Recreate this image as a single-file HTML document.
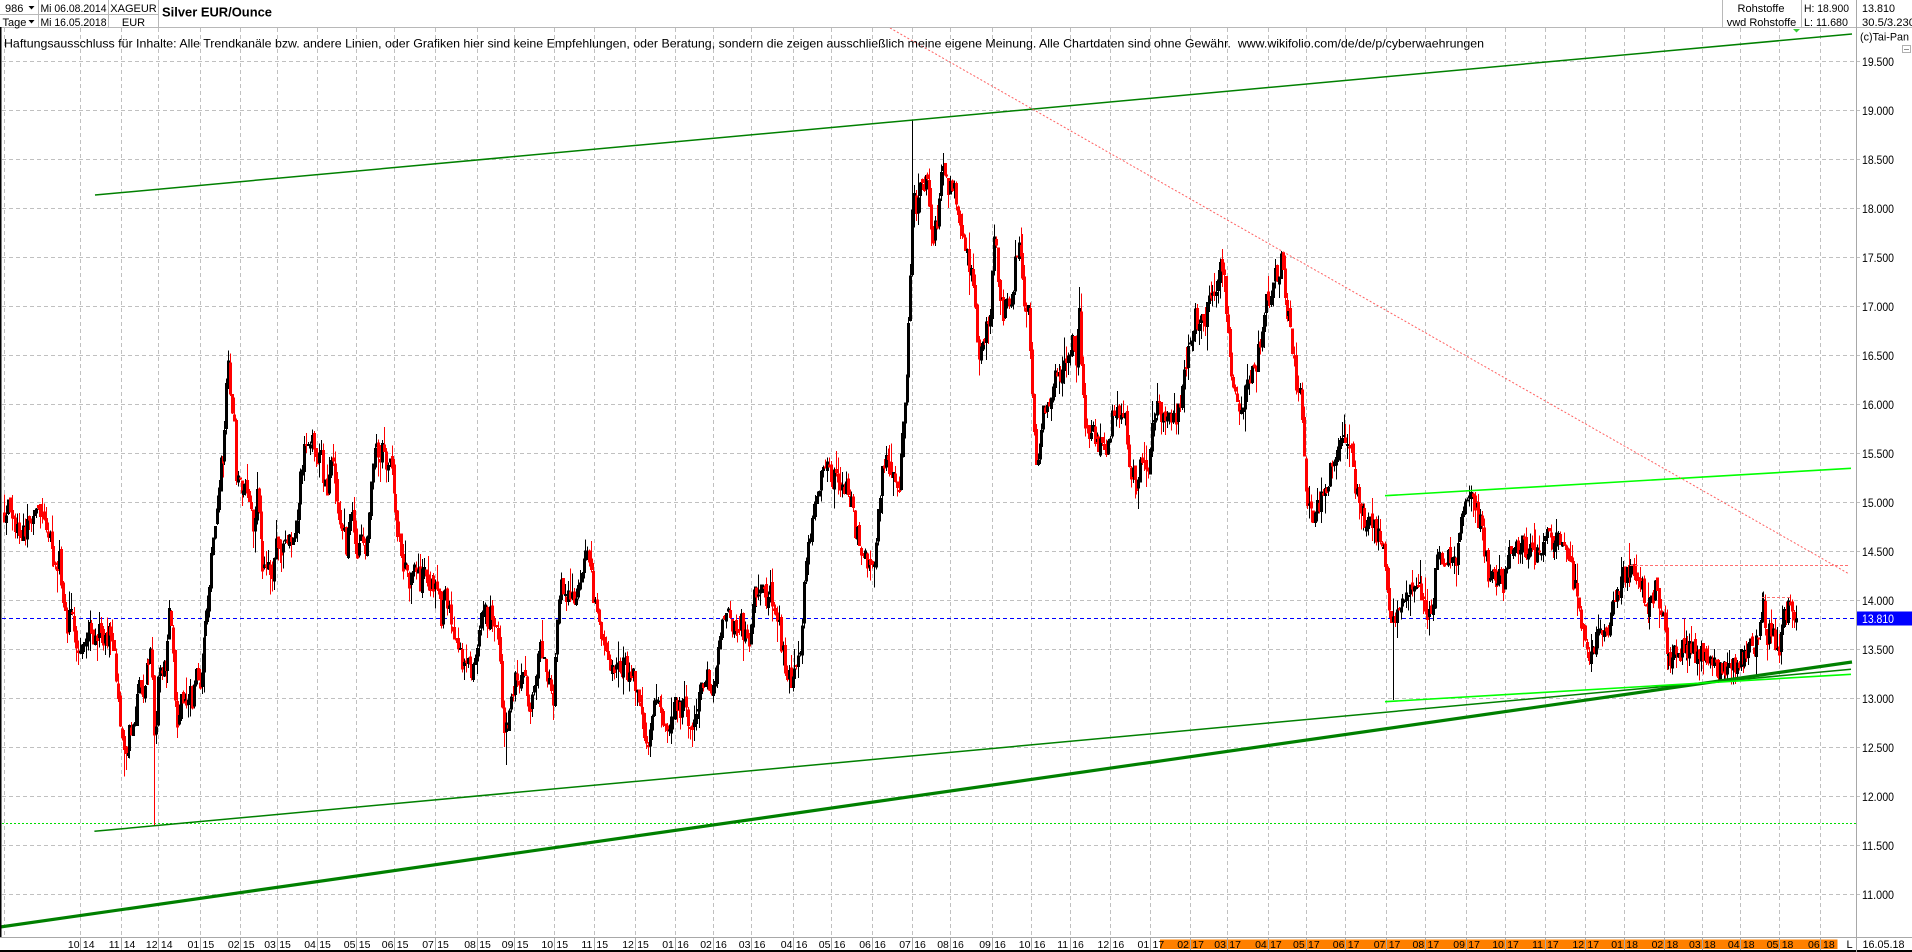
<!DOCTYPE html>
<html><head><meta charset="utf-8">
<style>
html,body{margin:0;padding:0;background:#fff;width:1912px;height:952px;overflow:hidden}
svg{display:block;font-family:"Liberation Sans",Arial,sans-serif}
</style></head>
<body>
<svg id="chart" width="1912" height="952" viewBox="0 0 1912 952" xmlns="http://www.w3.org/2000/svg">
<rect x="0" y="0" width="1912" height="952" fill="#fff"/>
<path fill="none" stroke="#c0c0c0" stroke-width="1" stroke-dasharray="4,3" shape-rendering="crispEdges" d="M2 61.5H1860M2 110.5H1860M2 159.5H1860M2 208.5H1860M2 257.5H1860M2 306.5H1860M2 355.5H1860M2 404.5H1860M2 453.5H1860M2 502.5H1860M2 551.5H1860M2 600.5H1860M2 649.5H1860M2 698.5H1860M2 747.5H1860M2 796.5H1860M2 845.5H1860M2 894.5H1860"/>
<path fill="none" stroke="#c0c0c0" stroke-width="1" stroke-dasharray="4,3" shape-rendering="crispEdges" d="M4.5 28V937M80.5 28V937M121.5 28V937M158.5 28V937M200.5 28V937M240.5 28V937M277.5 28V937M317.5 28V937M356.5 28V937M394.5 28V937M435.5 28V937M477.5 28V937M514.5 28V937M554.5 28V937M594.5 28V937M635.5 28V937M675.5 28V937M713.5 28V937M751.5 28V937M793.5 28V937M831.5 28V937M872.5 28V937M912.5 28V937M950.5 28V937M992.5 28V937M1031.5 28V937M1070.5 28V937M1110.5 28V937M1150.5 28V937M1190.5 28V937M1227.5 28V937M1268.5 28V937M1306.5 28V937M1345.5 28V937M1386.5 28V937M1425.5 28V937M1466.5 28V937M1505.5 28V937M1545.5 28V937M1585.5 28V937M1624.5 28V937M1664.5 28V937M1702.5 28V937M1740.5 28V937M1779.5 28V937M1820.5 28V937"/>

<path d="M2 823.5H1856" stroke="#00dd00" stroke-width="1" stroke-dasharray="2,2" fill="none" shape-rendering="crispEdges"/>
<path d="M2 618.5H1856" stroke="#0000ff" stroke-width="1" stroke-dasharray="4,3" fill="none" shape-rendering="crispEdges"/>

<g id="candles" fill="none" stroke-width="1" shape-rendering="crispEdges"></g>

<path d="M95 195L1852 34" stroke="#008000" stroke-width="1.5" fill="none"/>
<path d="M94.4 831.3L1851 669.3" stroke="#008000" stroke-width="1.5" fill="none"/>
<path d="M0 927L1852 662" stroke="#008000" stroke-width="3.2" fill="none"/>
<path d="M1385 495.7L1851 468.3" stroke="#00ff00" stroke-width="1.6" fill="none"/>
<path d="M1385 701.7L1851 674.3" stroke="#00ff00" stroke-width="1.6" fill="none"/>
<path d="M890 28L1848 573.3" stroke="#ff6060" stroke-width="1" stroke-dasharray="2,2" fill="none"/>
<path d="M1630 565.5H1850" stroke="#ff7070" stroke-width="1" stroke-dasharray="3,2" fill="none"/>
<path d="M1762 597.5H1790" stroke="#ff7070" stroke-width="1" stroke-dasharray="3,2" fill="none"/>

<rect x="0" y="0" width="1912" height="27" fill="#fff"/>
<g stroke="#b8b8b8" stroke-width="1" fill="none" shape-rendering="crispEdges">
<path d="M0 27.5H1912M0 14.5H158.5M38.5 0V27M108.5 0V27M158.5 0V27M1722.5 0V27M1801.5 0V27"/>
</g>
<path d="M0.5 27V937" stroke="#000" stroke-width="1.5" shape-rendering="crispEdges"/>
<path d="M1856.5 0V952" stroke="#a8a8a8" stroke-width="1" shape-rendering="crispEdges"/>

<g font-size="11" fill="#000">
<text x="5" y="12">986</text>
<text x="2.5" y="26">Tage</text>
<text x="40.5" y="12" textLength="66" lengthAdjust="spacingAndGlyphs">Mi 06.08.2014</text>
<text x="40.5" y="26" textLength="66" lengthAdjust="spacingAndGlyphs">Mi 16.05.2018</text>
<text x="133.5" y="12" text-anchor="middle">XAGEUR</text>
<text x="133.5" y="26" text-anchor="middle">EUR</text>
<text x="1761" y="12" text-anchor="middle">Rohstoffe</text>
<text x="1761.5" y="26" text-anchor="middle">vwd Rohstoffe</text>
<text x="1804" y="12" textLength="45" lengthAdjust="spacingAndGlyphs">H: 18.900</text>
<text x="1804" y="26" textLength="44" lengthAdjust="spacingAndGlyphs">L: 11.680</text>
<text x="1862" y="12" textLength="33" lengthAdjust="spacingAndGlyphs">13.810</text>
<text x="1862" y="26" textLength="53" lengthAdjust="spacingAndGlyphs">30.5/3.230</text>
<text x="1860" y="40.5" textLength="49" lengthAdjust="spacingAndGlyphs">(c)Tai-Pan</text>
</g>
<polygon points="28.5,6 34.5,6 31.5,9.5" fill="#000"/>
<polygon points="28.5,20 34.5,20 31.5,23.5" fill="#000"/>
<text x="162" y="16.7" font-size="13" font-weight="bold" textLength="110" lengthAdjust="spacingAndGlyphs">Silver EUR/Ounce</text>
<polygon points="1793,29 1800,29 1796.5,32.5" fill="#33cc33"/>
<rect x="1902.5" y="45.5" width="8" height="7" fill="#fff" stroke="#b0b0b0" stroke-width="1"/>
<path d="M1904 49.5H1909" stroke="#909090" stroke-width="1"/>

<text x="4" y="47.5" font-size="12" fill="#000" textLength="1480" lengthAdjust="spacingAndGlyphs">Haftungsausschluss für Inhalte: Alle Trendkanäle bzw. andere Linien, oder Grafiken hier sind keine Empfehlungen, oder Beratung, sondern die zeigen ausschließlich meine eigene Meinung. Alle Chartdaten sind ohne Gewähr.&#160; www.wikifolio.com/de/de/p/cyberwaehrungen</text>

<g font-size="12" fill="#000">
<text x="1862" y="66" textLength="32" lengthAdjust="spacingAndGlyphs">19.500</text>
<text x="1862" y="115" textLength="32" lengthAdjust="spacingAndGlyphs">19.000</text>
<text x="1862" y="164" textLength="32" lengthAdjust="spacingAndGlyphs">18.500</text>
<text x="1862" y="213" textLength="32" lengthAdjust="spacingAndGlyphs">18.000</text>
<text x="1862" y="262" textLength="32" lengthAdjust="spacingAndGlyphs">17.500</text>
<text x="1862" y="311" textLength="32" lengthAdjust="spacingAndGlyphs">17.000</text>
<text x="1862" y="360" textLength="32" lengthAdjust="spacingAndGlyphs">16.500</text>
<text x="1862" y="409" textLength="32" lengthAdjust="spacingAndGlyphs">16.000</text>
<text x="1862" y="458" textLength="32" lengthAdjust="spacingAndGlyphs">15.500</text>
<text x="1862" y="507" textLength="32" lengthAdjust="spacingAndGlyphs">15.000</text>
<text x="1862" y="556" textLength="32" lengthAdjust="spacingAndGlyphs">14.500</text>
<text x="1862" y="605" textLength="32" lengthAdjust="spacingAndGlyphs">14.000</text>
<text x="1862" y="654" textLength="32" lengthAdjust="spacingAndGlyphs">13.500</text>
<text x="1862" y="703" textLength="32" lengthAdjust="spacingAndGlyphs">13.000</text>
<text x="1862" y="752" textLength="32" lengthAdjust="spacingAndGlyphs">12.500</text>
<text x="1862" y="801" textLength="32" lengthAdjust="spacingAndGlyphs">12.000</text>
<text x="1862" y="850" textLength="32" lengthAdjust="spacingAndGlyphs">11.500</text>
<text x="1862" y="899" textLength="32" lengthAdjust="spacingAndGlyphs">11.000</text>
</g>
<rect x="1857" y="611.5" width="55" height="14" fill="#0000ff"/>
<text x="1862" y="623" font-size="12" fill="#ffffff" textLength="32" lengthAdjust="spacingAndGlyphs">13.810</text>

<rect x="0" y="938" width="1912" height="14" fill="#fff"/>
<path d="M0 937.5H1912" stroke="#a8a8a8" stroke-width="1" shape-rendering="crispEdges"/>
<rect x="1160" y="939.5" width="677.5" height="9.5" fill="#ff8000"/>
<path d="M0 951H1912" stroke="#000" stroke-width="2" shape-rendering="crispEdges"/>
<path d="M1856.5 937V952" stroke="#a8a8a8" stroke-width="1" shape-rendering="crispEdges"/>
<path fill="none" stroke="#a8a8a8" stroke-width="1" shape-rendering="crispEdges" d="M80.5 938V950M121.5 938V950M158.5 938V950M200.5 938V950M240.5 938V950M277.5 938V950M317.5 938V950M356.5 938V950M394.5 938V950M435.5 938V950M477.5 938V950M514.5 938V950M554.5 938V950M594.5 938V950M635.5 938V950M675.5 938V950M713.5 938V950M751.5 938V950M793.5 938V950M831.5 938V950M872.5 938V950M912.5 938V950M950.5 938V950M992.5 938V950M1031.5 938V950M1070.5 938V950M1110.5 938V950M1150.5 938V950M1190.5 938V950M1227.5 938V950M1268.5 938V950M1306.5 938V950M1345.5 938V950M1386.5 938V950M1425.5 938V950M1466.5 938V950M1505.5 938V950M1545.5 938V950M1585.5 938V950M1624.5 938V950M1664.5 938V950M1702.5 938V950M1740.5 938V950M1779.5 938V950M1820.5 938V950"/>
<g font-size="10.5" fill="#000">
<text y="948"><tspan x="67.9">10</tspan><tspan x="82.9">14</tspan></text>
<text y="948"><tspan x="108.7">11</tspan><tspan x="123.7">14</tspan></text>
<text y="948"><tspan x="145.9">12</tspan><tspan x="160.9">14</tspan></text>
<text y="948"><tspan x="187.5">01</tspan><tspan x="202.5">15</tspan></text>
<text y="948"><tspan x="227.9">02</tspan><tspan x="242.9">15</tspan></text>
<text y="948"><tspan x="264.2">03</tspan><tspan x="279.2">15</tspan></text>
<text y="948"><tspan x="304.2">04</tspan><tspan x="319.2">15</tspan></text>
<text y="948"><tspan x="343.8">05</tspan><tspan x="358.8">15</tspan></text>
<text y="948"><tspan x="381.8">06</tspan><tspan x="396.8">15</tspan></text>
<text y="948"><tspan x="422.2">07</tspan><tspan x="437.2">15</tspan></text>
<text y="948"><tspan x="464.2">08</tspan><tspan x="479.2">15</tspan></text>
<text y="948"><tspan x="501.8">09</tspan><tspan x="516.8">15</tspan></text>
<text y="948"><tspan x="541.4">10</tspan><tspan x="556.4">15</tspan></text>
<text y="948"><tspan x="581.4">11</tspan><tspan x="596.4">15</tspan></text>
<text y="948"><tspan x="622.2">12</tspan><tspan x="637.2">15</tspan></text>
<text y="948"><tspan x="662.2">01</tspan><tspan x="677.2">16</tspan></text>
<text y="948"><tspan x="700.2">02</tspan><tspan x="715.2">16</tspan></text>
<text y="948"><tspan x="738.8">03</tspan><tspan x="753.8">16</tspan></text>
<text y="948"><tspan x="780.8">04</tspan><tspan x="795.8">16</tspan></text>
<text y="948"><tspan x="818.8">05</tspan><tspan x="833.8">16</tspan></text>
<text y="948"><tspan x="859.2">06</tspan><tspan x="874.2">16</tspan></text>
<text y="948"><tspan x="899.2">07</tspan><tspan x="914.2">16</tspan></text>
<text y="948"><tspan x="937.2">08</tspan><tspan x="952.2">16</tspan></text>
<text y="948"><tspan x="979.2">09</tspan><tspan x="994.2">16</tspan></text>
<text y="948"><tspan x="1018.8">10</tspan><tspan x="1033.8">16</tspan></text>
<text y="948"><tspan x="1057.2">11</tspan><tspan x="1072.2">16</tspan></text>
<text y="948"><tspan x="1097.5">12</tspan><tspan x="1112.5">16</tspan></text>
<text y="948"><tspan x="1137.5">01</tspan><tspan x="1152.5">17</tspan></text>
<text y="948"><tspan x="1177.3">02</tspan><tspan x="1192.3">17</tspan></text>
<text y="948"><tspan x="1214.3">03</tspan><tspan x="1229.3">17</tspan></text>
<text y="948"><tspan x="1255.1">04</tspan><tspan x="1270.1">17</tspan></text>
<text y="948"><tspan x="1293">05</tspan><tspan x="1308">17</tspan></text>
<text y="948"><tspan x="1332.8">06</tspan><tspan x="1347.8">17</tspan></text>
<text y="948"><tspan x="1373.7">07</tspan><tspan x="1388.7">17</tspan></text>
<text y="948"><tspan x="1412.5">08</tspan><tspan x="1427.5">17</tspan></text>
<text y="948"><tspan x="1453.3">09</tspan><tspan x="1468.3">17</tspan></text>
<text y="948"><tspan x="1492.2">10</tspan><tspan x="1507.2">17</tspan></text>
<text y="948"><tspan x="1532.1">11</tspan><tspan x="1547.1">17</tspan></text>
<text y="948"><tspan x="1572.4">12</tspan><tspan x="1587.4">17</tspan></text>
<text y="948"><tspan x="1611.3">01</tspan><tspan x="1626.3">18</tspan></text>
<text y="948"><tspan x="1651.6">02</tspan><tspan x="1666.6">18</tspan></text>
<text y="948"><tspan x="1689">03</tspan><tspan x="1704">18</tspan></text>
<text y="948"><tspan x="1727.9">04</tspan><tspan x="1742.9">18</tspan></text>
<text y="948"><tspan x="1766.7">05</tspan><tspan x="1781.7">18</tspan></text>
<text y="948"><tspan x="1808">06</tspan><tspan x="1823">18</tspan></text>
</g>
<text x="1846.5" y="948" font-size="11" fill="#000">L</text>
<text x="1862.5" y="948" font-size="11" fill="#000" textLength="42" lengthAdjust="spacingAndGlyphs">16.05.18</text>
</svg>

<script>
(function(){
var A=[4,14.9,8,15.0,12,14.85,18,14.7,24,14.75,30,14.8,35,15.0,40,14.75,46,14.8,52,14.5,56,14.35,60,14.45,63,13.9,66,13.75,70,13.85,74,13.8,78,13.45,82,13.55,86,13.7,92,13.65,98,13.7,104,13.6,110,13.65,114,13.55,117,13.0,120,12.8,124,12.35,127,12.45,130,12.75,134,12.6,138,13.1,142,13.0,146,13.3,150,13.5,152,13.35,155,12.45,158,13.2,162,13.3,166,13.2,169,13.85,172,13.75,175,13.05,177,12.7,181,13.15,185,12.9,189,13.1,193,12.95,197,13.3,200,13.1,203,13.55,207,13.95,211,14.45,214,14.6,218,15.1,221,15.45,224,15.55,227,16.3,229,16.4,231,15.95,234,15.9,236,15.1,239,15.25,242,15.0,246,15.25,250,14.9,254,14.75,257,15.2,261,14.45,264,14.35,268,14.3,272,14.25,275,14.7,279,14.6,283,14.5,288,14.65,292,14.55,296,14.75,299,15.1,302,15.4,306,15.65,309,15.55,312,15.75,316,15.45,320,15.5,324,15.25,327,15.1,330,15.45,334,15.35,337,15.05,341,14.85,344,14.65,347,14.5,350,15.0,353,14.85,356,14.4,360,14.75,364,14.55,368,14.7,371,15.3,374,15.55,378,15.45,382,15.55,386,15.35,390,15.45,393,15.2,396,14.8,399,14.6,402,14.4,406,14.25,410,14.2,415,14.3,420,14.2,425,14.25,430,14.15,435,14.2,439,14.1,441,13.65,444,14.05,448,13.9,452,13.8,456,13.6,460,13.45,464,13.25,468,13.4,472,13.3,476,13.45,480,13.7,483,13.95,487,13.8,491,13.85,495,13.7,499,13.6,502,12.9,505,12.6,508,12.8,511,13.0,515,13.2,519,13.1,523,13.25,527,12.95,530,12.8,534,13.1,538,13.5,542,13.45,546,13.3,550,13.15,553,13.0,556,13.6,559,14.1,562,14.2,566,13.95,570,14.1,574,14.0,578,14.1,582,14.35,586,14.5,590,14.3,594,14.0,598,13.75,602,13.6,606,13.45,610,13.3,614,13.35,619,13.3,624,13.3,631,13.3,635,13.1,640,12.95,645,12.6,648,12.5,652,12.9,656,13.0,660,12.8,664,12.75,668,12.72,672,12.75,676,13.0,680,12.85,684,13.05,688,12.8,692,12.75,697,12.8,701,13.1,706,13.25,711,13.15,716,13.3,719,13.6,722,13.85,725,13.9,729,13.8,733,13.75,737,13.7,741,13.8,745,13.6,749,13.55,752,13.9,755,14.15,758,14.05,762,14.1,766,13.95,770,14.1,774,13.85,778,13.8,782,13.5,786,13.3,790,13.2,794,13.3,798,13.4,801,13.6,804,14.1,807,14.45,811,14.7,815,15.0,819,15.15,823,15.3,826,15.5,829,15.35,832,15.2,836,15.3,840,15.05,844,15.2,848,15.0,851,15.05,855,14.7,859,14.6,863,14.45,867,14.35,871,14.3,875,14.5,878,14.85,881,15.3,885,15.45,889,15.35,893,15.4,896,15.1,899,15.05,901,15.5,903,15.9,906,16.3,908,16.7,910,17.3,912,18.0,914,18.25,917,17.9,920,18.35,923,18.1,926,18.4,929,18.1,931,17.9,933,17.6,936,17.85,939,18.05,942,18.45,945,18.4,948,18.2,951,18.35,954,18.15,957,17.95,960,17.75,963,17.85,966,17.6,969,17.45,972,17.3,974,17.0,976,16.75,979,16.5,982,16.65,986,16.8,989,16.75,992,17.45,995,17.7,998,17.3,1001,17.0,1004,16.95,1008,17.0,1012,16.95,1015,17.5,1018,17.65,1021,17.4,1024,17.1,1028,16.95,1030,16.6,1032,16.0,1034,15.6,1036,15.45,1039,15.6,1042,15.9,1045,15.9,1049,15.95,1052,16.15,1056,16.3,1060,16.25,1064,16.45,1068,16.5,1072,16.6,1076,16.5,1080,17.1,1082,16.2,1085,15.85,1089,15.7,1093,15.75,1097,15.6,1101,15.55,1105,15.6,1109,15.5,1112,15.9,1116,16.0,1120,15.9,1124,16.0,1128,15.4,1132,15.3,1136,15.2,1140,15.35,1144,15.3,1148,15.25,1152,15.8,1156,15.95,1160,15.9,1165,15.8,1170,15.85,1175,15.8,1180,16.0,1184,16.35,1188,16.55,1192,16.7,1196,16.9,1200,16.8,1204,16.85,1208,17.0,1212,17.15,1216,17.1,1220,17.35,1223,17.45,1226,16.9,1229,16.6,1232,16.35,1235,16.1,1238,15.95,1242,15.95,1246,16.15,1250,16.25,1254,16.3,1258,16.55,1262,16.85,1266,17.1,1270,17.1,1274,17.3,1278,17.35,1282,17.5,1285,17.0,1288,16.95,1291,16.8,1293,16.5,1296,16.2,1300,16.05,1305,15.15,1311,14.85,1317,15.0,1323,15.0,1329,15.25,1335,15.5,1341,15.55,1347,15.7,1351,15.5,1355,15.1,1360,14.95,1364,14.85,1370,14.75,1376,14.7,1383,14.6,1386,14.25,1389,14.0,1392,13.75,1396,13.9,1400,13.85,1404,14.1,1408,14.15,1412,14.05,1416,14.15,1420,14.1,1424,14.05,1428,13.85,1432,13.9,1435,14.45,1440,14.5,1444,14.45,1448,14.45,1452,14.4,1456,14.45,1459,14.7,1462,14.9,1466,15.0,1470,15.05,1474,14.95,1478,14.85,1482,14.7,1485,14.45,1488,14.3,1492,14.25,1496,14.2,1500,14.25,1504,14.15,1508,14.45,1512,14.5,1517,14.55,1522,14.6,1527,14.5,1532,14.45,1537,14.45,1541,14.4,1545,14.7,1549,14.75,1553,14.6,1557,14.6,1562,14.55,1566,14.5,1570,14.4,1574,14.15,1578,14.0,1582,13.75,1586,13.55,1590,13.45,1594,13.5,1598,13.65,1603,13.65,1607,13.7,1611,13.95,1615,14.05,1619,14.15,1623,14.25,1628,14.3,1633,14.25,1638,14.2,1643,14.1,1647,13.95,1651,14.05,1656,14.1,1660,13.95,1664,13.8,1667,13.4,1671,13.45,1676,13.45,1681,13.5,1686,13.45,1690,13.5,1695,13.45,1700,13.45,1705,13.4,1710,13.35,1714,13.35,1718,13.3,1722,13.3,1726,13.35,1730,13.4,1734,13.3,1738,13.4,1742,13.45,1746,13.4,1750,13.5,1754,13.5,1758,13.65,1761,13.95,1764,13.9,1767,13.65,1771,13.65,1775,13.55,1779,13.55,1782,13.8,1786,13.85,1789,14.0,1792,13.95,1795,13.85,1797,13.81];
function ip(x){
  if(x<=A[0]) return A[1];
  for(var i=0;i<A.length-2;i+=2){
    if(x<=A[i+2]){var t=(x-A[i])/(A[i+2]-A[i]);return A[i+1]+t*(A[i+3]-A[i+1]);}
  }
  return A[A.length-1];
}
var s=987654321;
function r(){s^=s<<13;s^=s>>>17;s^=s<<5;return ((s>>>0)%100000)/100000;}
function Y(p){return 61.5+(19.5-p)*97.96;}
var sp={};
function near(x){return Math.round((x-4)/1.9);}
sp[near(155)]={lo:11.70};
sp[near(228.5)]={hi:16.55};
sp[near(911.6)]={hi:18.90};
sp[near(1080)]={hi:17.2};
sp[near(1283)]={hi:17.56};
sp[near(1392)]={lo:12.98};
sp[near(648)]={lo:12.42};
sp[near(505)]={lo:12.32};
sp[near(124)]={lo:12.2};
sp[near(1036)]={lo:15.38};
var out=[];
var prev=ip(4);
var n=Math.floor((1796-4)/1.9);
for(var i=0;i<=n;i++){
  var x=4+i*1.9;
  var b=ip(x);
  var c=b+(r()-0.5)*0.22;
  if(i==n) c=13.81;
  var o=prev+(r()-0.5)*0.07;
  var hi=Math.max(o,c)+r()*r()*0.26;
  var lo=Math.min(o,c)-r()*r()*0.26;
  if(sp[i]){ if(sp[i].lo!==undefined) lo=sp[i].lo; if(sp[i].hi!==undefined) hi=sp[i].hi; }
  var col=(c<o)?'#ff0000':'#000000';
  var xr=Math.round(x)+0.5;
  var yt=Y(Math.max(o,c)), yb=Y(Math.min(o,c));
  if(yb-yt<1) yb=yt+1;
  out.push('<path stroke="'+col+'" d="M'+xr+' '+Y(hi).toFixed(1)+'V'+Y(lo).toFixed(1)+'M'+(xr-1)+' '+yt.toFixed(1)+'H'+(xr+1)+'V'+yb.toFixed(1)+'H'+(xr-1)+'Z"/>');
  prev=c;
}
document.getElementById('candles').innerHTML=out.join('');
})();
</script>
</body></html>
